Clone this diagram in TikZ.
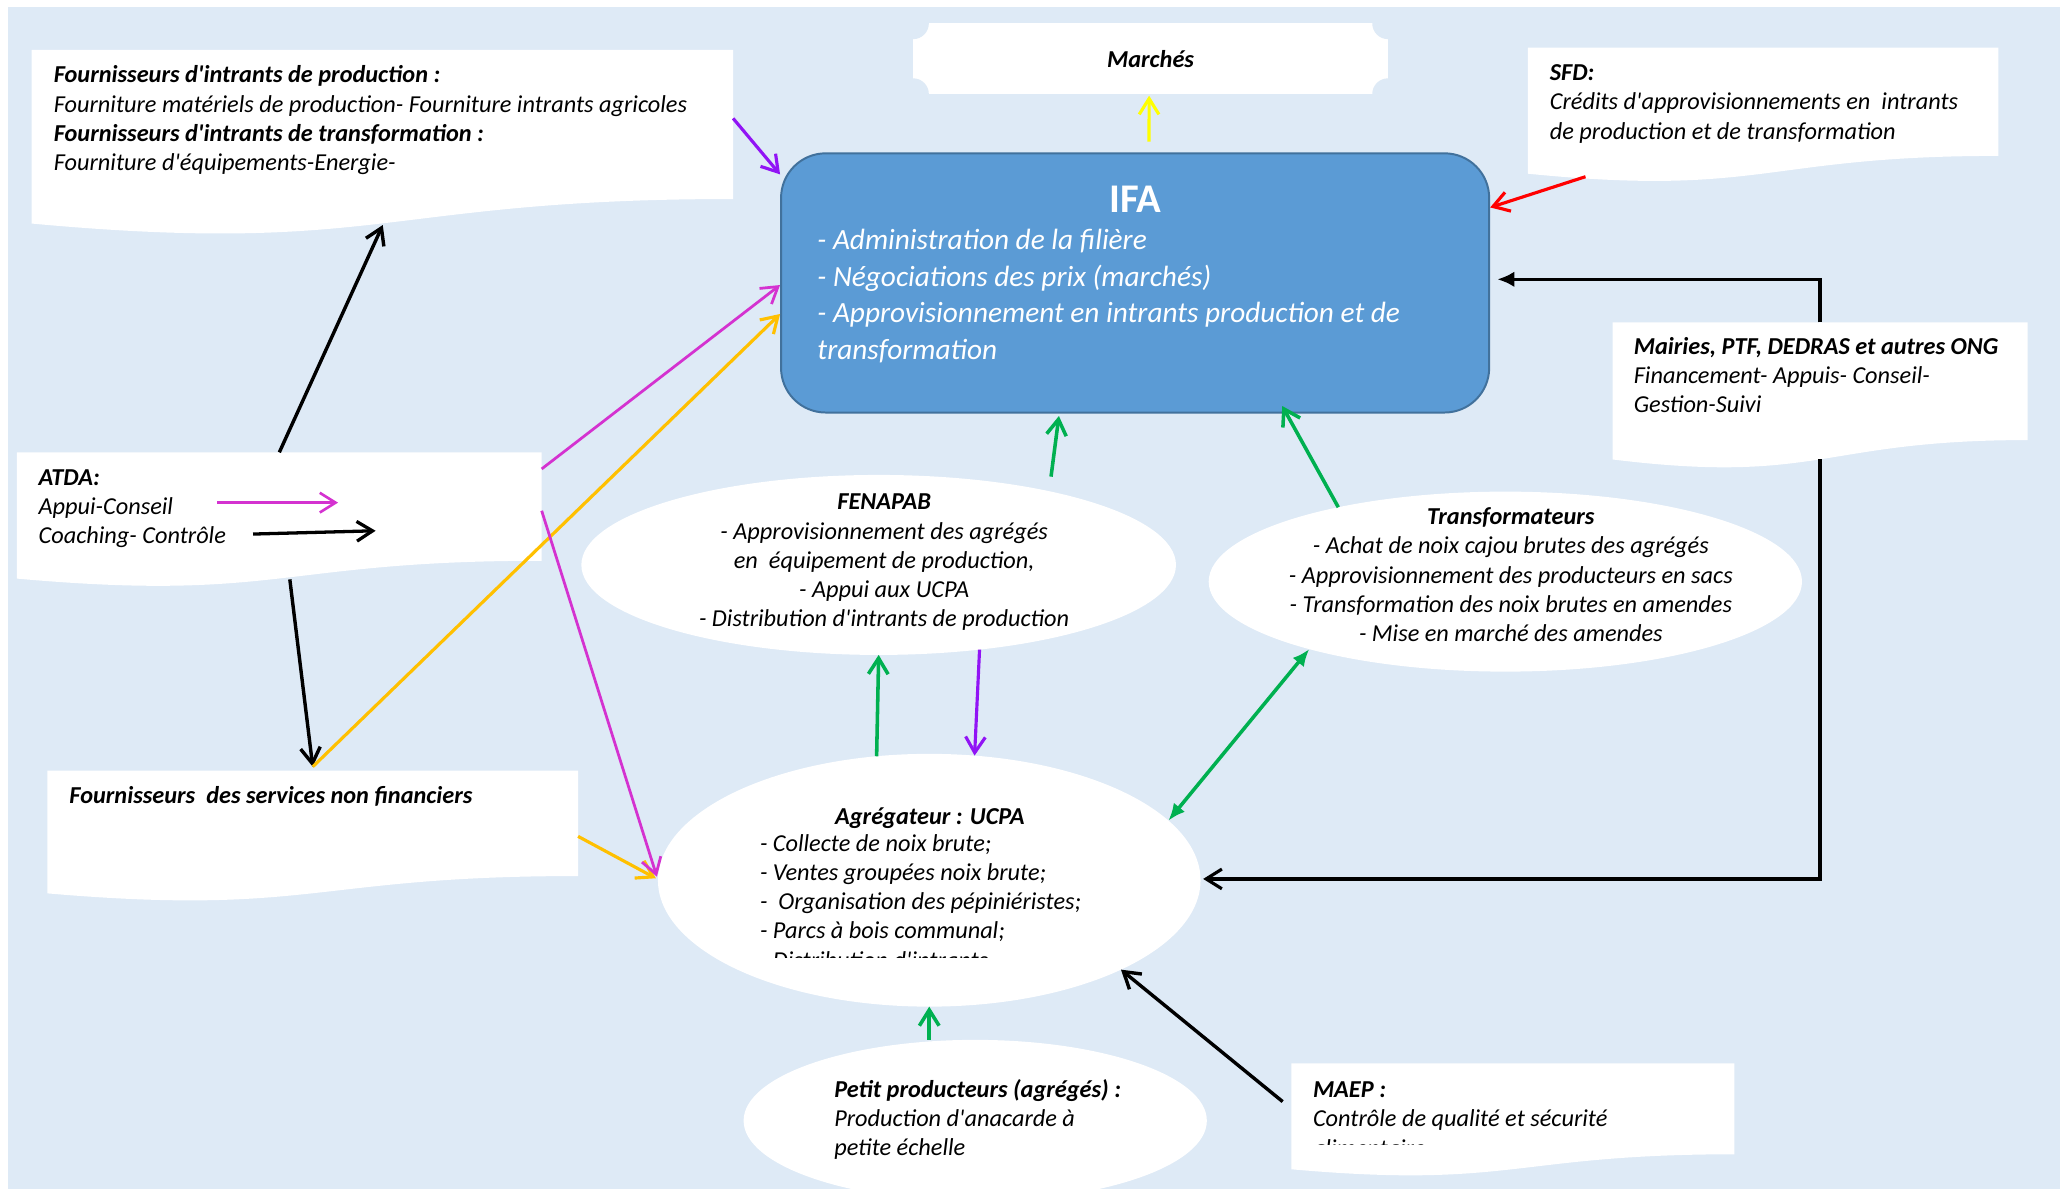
\documentclass[tikz,border=0pt]{standalone}
\usepackage{fontspec}
\newfontfamily\cf{Carlito}
\usetikzlibrary{arrows.meta,calc,shapes.geometric}
\definecolor{bgblue}{RGB}{222,234,246}
\definecolor{ifafill}{RGB}{91,155,213}
\definecolor{ifaline}{RGB}{65,113,156}
\definecolor{cgreen}{RGB}{0,176,80}
\definecolor{cpurple}{RGB}{145,20,245}
\definecolor{cmag}{RGB}{212,50,208}
\definecolor{corange}{RGB}{255,192,0}
\definecolor{cyellow}{RGB}{255,255,0}
\definecolor{cred}{RGB}{255,0,0}
\newcommand\docfill[1]{\fill[white] let \p1=(#1.north west), \p2=(#1.south east) in
 (\x1,\y1) -- (\x2,\y1) -- (\x2,{\y1+0.802*(\y2-\y1)})
 .. controls ({0.5*(\x1+\x2)},{\y1+0.802*(\y2-\y1)}) and ({0.5*(\x1+\x2)},{\y1+1.1075*(\y2-\y1)}) ..
 (\x1,{\y1+0.934*(\y2-\y1)}) -- cycle;}
\tikzset{
 frame/.style={rectangle, inner sep=0pt, outer sep=0pt, anchor=north west},
 ell/.style={ellipse, fill=white, inner sep=0pt, outer sep=0pt},
 body/.style={inner sep=0pt, font=\cf\fontsize{18.5}{22.3}\selectfont\itshape, align=left, anchor=base west},
 arr/.style={line width=2.4pt, -{Straight Barb[length=12pt,width=15pt]}},
 farr/.style={line width=2.4pt, -{Latex[length=13pt,width=12pt]}},
}
\begin{document}
\begin{tikzpicture}[x=1pt,y=-1pt]
\useasboundingbox (0,0) rectangle (1568,905);
\fill[bgblue] (6,5) rectangle (1568,905);

% document boxes
\node[frame, minimum width=533.9pt, minimum height=141.5pt] (fi) at (24.1,38) {};
\docfill{fi}
\node[frame, minimum width=358pt, minimum height=102.7pt] (sfd) at (1163,36.3) {};
\docfill{sfd}
\node[frame, minimum width=315.9pt, minimum height=111.8pt] (mai) at (1227.4,245.3) {};
\docfill{mai}
\node[frame, minimum width=399.4pt, minimum height=102.9pt] (atda) at (12.9,344.3) {};
\docfill{atda}
\node[frame, minimum width=403.9pt, minimum height=100pt] (svc) at (36.1,586.6) {};
\docfill{svc}
\node[frame, minimum width=337.3pt, minimum height=86.4pt] (maep) at (982.9,809.3) {};
\docfill{maep}

% IFA
\node[rectangle, rounded corners=34pt, fill=ifafill, draw=ifaline, line width=1.5pt,
 minimum width=539pt, minimum height=197.3pt, inner sep=0pt] (ifa) at (864,215.35) {};

% Marches
\node[fill=white, minimum width=361.5pt, minimum height=53.8pt, inner sep=0pt, outer sep=0pt,
 font=\cf\fontsize{18.5}{22.3}\selectfont\bfseries\itshape] (mar) at (875.75,44.7) {Marchés};
\foreach \c in {north west,north east,south west,south east} \fill[bgblue] (mar.\c) circle (12pt);

% ellipses
\node[ell, minimum width=452.6pt, minimum height=137pt] (fen) at (668.8,430) {};
\node[ell, minimum width=451.6pt, minimum height=137pt] (tra) at (1145.8,442.7) {};
\node[ell, minimum width=413pt, minimum height=192.4pt] (ucpa) at (707.3,670) {};
\node[ell, minimum width=352.6pt, minimum height=123pt] (pp) at (742.3,853) {};

% connectors
\draw[arr, cpurple] (fi.4.6) -- (ifa.163.9);
\draw[arr, cyellow] ($(ifa.north)+(10.6,-8.1)$) -- ($(mar.south)+(-1.1,1.2)$);
\draw[arr, cred] ($(sfd.south west)+(43.8,-4.5)$) -- (ifa.12.1);
\draw[farr, black] (mai.north) |- ($(ifa.east)+(5.5,-2.75)$);
\draw[arr, black] ($(mai.south)+(0,-7.5)$) |- ($(ucpa.east)+(2,-1)$);
\draw[arr, black, line width=2.6pt] (atda.north) -- ($(fi.south)+(0.3,-8.2)$);
\draw[arr, black, line width=2.6pt] ($(atda.south)+(8,-6.2)$) -- ($(svc.north)+(0,-3)$);
\draw[arr, corange] ($(svc.north)+(0,-3)$) -- (ifa.185.9);
\draw[arr, corange] (svc.east) -- ($(ucpa.west)+(-1.6,-1.5)$);
\draw[arr, cmag, line width=2.1pt] (atda.11.8) -- ($(ifa.west)+(0,1.6)$);
\draw[arr, cmag, line width=2.1pt] ($(atda.east)+(0,-7)$) -- ($(ucpa.west)+(-0.8,-2.7)$);
\draw[arr, cpurple] (fen.-40.7) -- (ucpa.70.35);
\draw[arr, cgreen, line width=2.7pt] (ucpa.113.8) -- (fen.south);
\draw[arr, cgreen, line width=2.7pt] ($(fen.north)+(131.2,1.3)$) -- ($(ifa.south)+(-58,1.9)$);
\draw[arr, cgreen, line width=2.7pt] (tra.156.7) -- ($(ifa.south)+(112,-5.7)$);
\draw[cgreen, line width=2.7pt, {Latex[length=13pt,width=11pt]}-{Latex[length=13pt,width=11pt]}] (ucpa.14.5) -- (tra.199.7);
\draw[arr, cgreen, line width=2.7pt] (pp.north -| ucpa.south) -- (ucpa.south);
\draw[arr, black, line width=2.6pt] ($(maep.west)+(-6.6,-14)$) -- (ucpa.-25);

% ATDA inner arrows
\coordinate (m1) at (165.5,382.6);
\coordinate (m2) at (257.3,382.6);
\coordinate (k1) at (192.6,406.5);
\coordinate (k2) at (285.9,404);
\draw[arr, cmag, line width=2pt] (m1) -- (m2);
\draw[arr, black, line width=2.5pt] (k1) -- (k2);

% texts (base anchor = baseline of the last line)
\node[body] (fiT) at (40.8,130) {\textbf{Fournisseurs d'intrants de production :}\\Fourniture matériels de production- Fourniture intrants agricoles\\\textbf{Fournisseurs d'intrants de transformation :}\\Fourniture d'équipements-Energie-};
\node[body] (sfdT) at (1179.5,106) {\textbf{SFD:}\\Crédits d'approvisionnements en~ intrants\\de production et de transformation};
\node[body] (maiT) at (1243.4,314.1) {\textbf{Mairies, PTF, DEDRAS et autres ONG}\\Financement- Appuis- Conseil-\\Gestion-Suivi};
\node[body] (atdaT) at (29.2,413.8) {\textbf{ATDA:}\\Appui-Conseil\\Coaching- Contrôle};
\node[body] (svcT) at (52.7,611.7) {\textbf{Fournisseurs~ des services non financiers}};
\node[anchor=base, text=white, inner sep=0pt, font=\cf\bfseries\fontsize{31}{37}\selectfont] (ifaT) at (864,161.8) {IFA};
\node[body, text=white, font=\cf\itshape\fontsize{22.3}{27.9}\selectfont] (ifaL) at (622,273.5) {- Administration de la filière\\- Négociations des prix (marchés)\\- Approvisionnement en intrants production et de\\transformation};
\node[body, align=center, anchor=base] (fenT) at (673,477.2) {\textbf{FENAPAB}\\- Approvisionnement des agrégés\\en~ équipement de production,\\- Appui aux UCPA\\- Distribution d'intrants de production};
\node[body, align=center, anchor=base] (traT) at (1150,488.4) {\textbf{Transformateurs}\\- Achat de noix cajou brutes des agrégés\\- Approvisionnement des producteurs en sacs\\- Transformation des noix brutes en amendes\\- Mise en marché des amendes};
\node[body, anchor=base] (ucH) at (707.8,627.8) {\textbf{Agrégateur : UCPA}};
\begin{scope}
\clip (560,600) rectangle (900,729);
\node[body] (ucT) at (578.3,737) {- Collecte de noix brute;\\- Ventes groupées noix brute;\\-~ Organisation des pépiniéristes;\\- Parcs à bois communal;\\- Distribution d'intrants};
\end{scope}
\node[body] (ppT) at (634.8,879.8) {\textbf{Petit producteurs (agrégés) :}\\Production d'anacarde à\\petite échelle};
\begin{scope}
\clip (990,815) rectangle (1320,871);
\node[body] (maT) at (999.2,880.1) {\textbf{MAEP :}\\Contrôle de qualité et sécurité\\alimentaire};
\end{scope}
\end{tikzpicture}
\end{document}
